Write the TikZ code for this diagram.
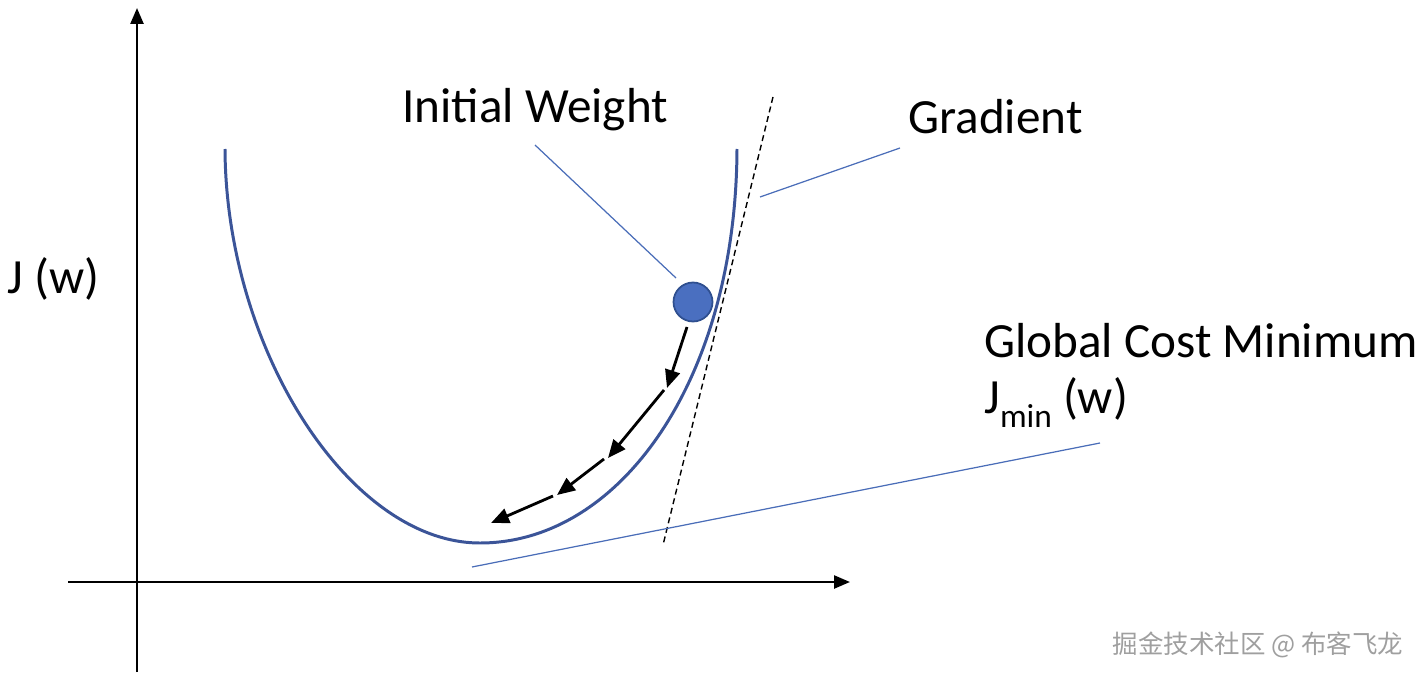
\documentclass[tikz,border=0pt]{standalone}
\usepackage{fontspec}
\setmainfont{Carlito}
\newfontfamily\cjk{Noto Sans CJK SC}
\usepackage{tikz}
\usetikzlibrary{arrows.meta,positioning}
\usepackage{xcolor}
\definecolor{curveblue}{HTML}{3B5498}
\definecolor{ballblue}{HTML}{4A6FC0}
\definecolor{ballrim}{HTML}{2F4F8F}
\definecolor{leadblue}{HTML}{4A6DB8}

\begin{document}
\begin{tikzpicture}[
  x=0.02cm, y=-0.02cm,
  axis/.style={-{Triangle[length=3.2mm, width=2.6mm]}, line width=1.4pt},
  costcurve/.style={draw=curveblue, line width=1.7pt},
  leader/.style={draw=leadblue, line width=0.7pt},
  tangent/.style={line width=0.8pt, dash pattern=on 3.4pt off 2.2pt},
  step arrow/.style={-{Triangle[length=3.6mm, width=3mm]}, line width=1.6pt},
  label/.style={font=\fontsize{28}{33}\selectfont, inner sep=0pt, anchor=base west},
  ball/.style={circle, fill=ballblue, draw=ballrim, line width=1pt, minimum size=0.78cm, inner sep=0pt}
]
\useasboundingbox (0,0) rectangle (1421,679);

% axes
\coordinate (yfoot) at (137,672);
\coordinate (ytop) at (137,8);
\coordinate (xfoot) at (68,582);
\coordinate (xend) at (850,582);
\draw[axis] (yfoot) -- (ytop);
\draw[axis] (xfoot) -- (xend);

% cost curve
\coordinate (cleft) at (225,149);
\coordinate (cmin) at (480,543);
\coordinate (cright) at (737,149);
\draw[costcurve] (cleft) .. controls (226,350) and (350,543) .. (cmin)
  .. controls (620,543) and (736,380) .. (cright);

% gradient tangent
\coordinate (tantop) at (773,97);
\coordinate (tanbot) at (663,545);
\draw[tangent] (tantop) -- (tanbot);

% initial weight
\node[ball] (ball) at (693,302) {};

% descent steps
\coordinate (s0) at (687,327);
\coordinate (s1) at (667,388);
\coordinate (s2) at (608,458);
\coordinate (s3) at (557,495);
\coordinate (s4) at (491,523);
\coordinate (g1) at (664,390);
\coordinate (g2) at (604,459);
\coordinate (g3) at (553,496);
\draw[step arrow] (s0) -- (s1);
\foreach \a/\b in {g1/s2, g2/s3, g3/s4}
  \draw[step arrow] (\a) -- (\b);

% labels
\node[label] (jw) at (7,293) {J (w)};
\node[label] (init) at (402,123) {Initial Weight};
\node[label] (grad) at (908,133) {Gradient};
\node[label] (glob) at (984,357) {Global Cost Minimum};
\node[label] (jmin) at (984,413) {J\raisebox{-0.3em}{\fontsize{19}{20}\selectfont min} (w)};

% leader lines
\coordinate (initlead) at (535,145);
\coordinate (ballpt) at (676,278);
\coordinate (gradlead) at (900,148);
\coordinate (tanpt) at (760,197);
\coordinate (minlead) at (1100,443);
\coordinate (minpt) at (472,567);
\draw[leader] (initlead) -- (ballpt);
\draw[leader] (gradlead) -- (tanpt);
\draw[leader] (minlead) -- (minpt);

% watermark
\node[font=\cjk\fontsize{14.5}{16}\selectfont, text=gray!75, inner sep=0pt] (mark) at (1258,645) {掘金技术社区 @ 布客飞龙};
\end{tikzpicture}
\end{document}
